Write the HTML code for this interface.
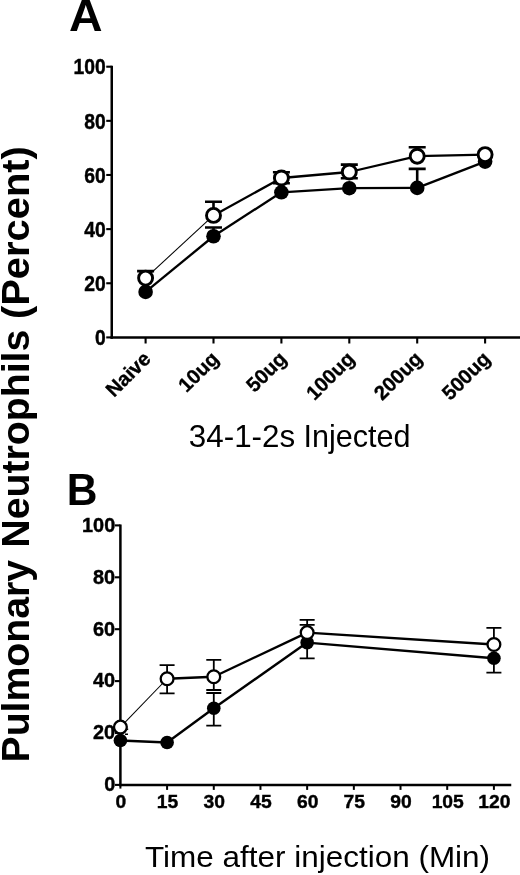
<!DOCTYPE html>
<html><head><meta charset="utf-8"><title>Figure</title>
<style>
html,body{margin:0;padding:0;background:#fff;}
body{width:520px;height:875px;overflow:hidden;font-family:"Liberation Sans",sans-serif;}
svg{display:block;filter:grayscale(1);}
svg text{font-family:"Liberation Sans",sans-serif;fill:#000;}
</style></head><body>
<svg width="520" height="875" viewBox="0 0 520 875">
<rect width="520" height="875" fill="#fff"/>
<path d="M111.75 65.7 V338.65" stroke="#000" stroke-width="2.5" fill="none"/>
<path d="M110.5 337.4 H520" stroke="#000" stroke-width="2.5" fill="none"/>
<path d="M106.25 337.4 H111.75" stroke="#000" stroke-width="2.1" fill="none"/>
<path d="M106.25 283.26 H111.75" stroke="#000" stroke-width="2.1" fill="none"/>
<path d="M106.25 229.12 H111.75" stroke="#000" stroke-width="2.1" fill="none"/>
<path d="M106.25 174.98 H111.75" stroke="#000" stroke-width="2.1" fill="none"/>
<path d="M106.25 120.84 H111.75" stroke="#000" stroke-width="2.1" fill="none"/>
<path d="M106.25 66.7 H111.75" stroke="#000" stroke-width="2.1" fill="none"/>
<path d="M145.6 337.4 V343.5" stroke="#000" stroke-width="2.1" fill="none"/>
<path d="M213.5 337.4 V343.5" stroke="#000" stroke-width="2.1" fill="none"/>
<path d="M281.4 337.4 V343.5" stroke="#000" stroke-width="2.1" fill="none"/>
<path d="M349.3 337.4 V343.5" stroke="#000" stroke-width="2.1" fill="none"/>
<path d="M417.2 337.4 V343.5" stroke="#000" stroke-width="2.1" fill="none"/>
<path d="M485.1 337.4 V343.5" stroke="#000" stroke-width="2.1" fill="none"/>
<g transform="translate(105.75 345.1) scale(1 1.17)"><text x="0" y="0" font-size="19.3" font-weight="bold" stroke="#000" stroke-width="0.4" text-anchor="end">0</text></g>
<g transform="translate(105.75 290.96) scale(1 1.17)"><text x="0" y="0" font-size="19.3" font-weight="bold" stroke="#000" stroke-width="0.4" text-anchor="end">20</text></g>
<g transform="translate(105.75 236.82) scale(1 1.17)"><text x="0" y="0" font-size="19.3" font-weight="bold" stroke="#000" stroke-width="0.4" text-anchor="end">40</text></g>
<g transform="translate(105.75 182.68) scale(1 1.17)"><text x="0" y="0" font-size="19.3" font-weight="bold" stroke="#000" stroke-width="0.4" text-anchor="end">60</text></g>
<g transform="translate(105.75 128.54) scale(1 1.17)"><text x="0" y="0" font-size="19.3" font-weight="bold" stroke="#000" stroke-width="0.4" text-anchor="end">80</text></g>
<g transform="translate(105.75 74.4) scale(1 1.17)"><text x="0" y="0" font-size="19.3" font-weight="bold" stroke="#000" stroke-width="0.4" text-anchor="end">100</text></g>
<text transform="translate(152 360) rotate(-45)" font-size="20.2" font-weight="bold" stroke="#000" stroke-width="0.35" text-anchor="end">Naive</text>
<text transform="translate(219.9 360) rotate(-45)" font-size="20.2" font-weight="bold" stroke="#000" stroke-width="0.35" text-anchor="end">10ug</text>
<text transform="translate(287.8 360) rotate(-45)" font-size="20.2" font-weight="bold" stroke="#000" stroke-width="0.35" text-anchor="end">50ug</text>
<text transform="translate(355.7 360) rotate(-45)" font-size="20.2" font-weight="bold" stroke="#000" stroke-width="0.35" text-anchor="end">100ug</text>
<text transform="translate(423.6 360) rotate(-45)" font-size="20.2" font-weight="bold" stroke="#000" stroke-width="0.35" text-anchor="end">200ug</text>
<text transform="translate(491.5 360) rotate(-45)" font-size="20.2" font-weight="bold" stroke="#000" stroke-width="0.35" text-anchor="end">500ug</text>
<path d="M145.6 291.9 L213.5 236.25" stroke="#000" stroke-width="2.3" fill="none"/>
<path d="M213.5 236.25 L281.4 192.3" stroke="#000" stroke-width="2.3" fill="none"/>
<path d="M281.4 192.3 L349.3 188.2" stroke="#000" stroke-width="2.3" fill="none"/>
<path d="M349.3 188.2 L417.2 187.9" stroke="#000" stroke-width="2.3" fill="none"/>
<path d="M417.2 187.9 L485.1 161.6" stroke="#000" stroke-width="2.3" fill="none"/>
<path d="M213.5 236.25 V227.5 M205 227.5 H222" stroke="#000" stroke-width="2.6" fill="none"/>
<path d="M417.2 187.9 V168.9 M408.7 168.9 H425.7" stroke="#000" stroke-width="2.6" fill="none"/>
<circle cx="145.6" cy="291.9" r="7.3" fill="#000"/>
<circle cx="213.5" cy="236.25" r="7.3" fill="#000"/>
<circle cx="281.4" cy="192.3" r="7.3" fill="#000"/>
<circle cx="349.3" cy="188.2" r="7.3" fill="#000"/>
<circle cx="417.2" cy="187.9" r="7.3" fill="#000"/>
<circle cx="485.1" cy="161.6" r="7.3" fill="#000"/>
<path d="M145.6 278.1 L213.5 215.4" stroke="#000" stroke-width="1.05" fill="none"/>
<path d="M213.5 215.4 L281.4 178" stroke="#000" stroke-width="2.3" fill="none"/>
<path d="M281.4 178 L349.3 172" stroke="#000" stroke-width="2.3" fill="none"/>
<path d="M349.3 172 L417.2 156.2" stroke="#000" stroke-width="2.3" fill="none"/>
<path d="M417.2 156.2 L485.1 154.6" stroke="#000" stroke-width="2.3" fill="none"/>
<path d="M145.6 278.1 V271.1 M137.1 271.1 H154.1" stroke="#000" stroke-width="2.6" fill="none"/>
<path d="M213.5 215.4 V201.7 M205 201.7 H222" stroke="#000" stroke-width="2.6" fill="none"/>
<path d="M281.4 178 V172.2 M272.9 172.2 H289.9" stroke="#000" stroke-width="2.6" fill="none"/>
<path d="M281.4 178 V183.3 M272.9 183.3 H289.9" stroke="#000" stroke-width="2.6" fill="none"/>
<path d="M349.3 172 V164.6 M340.8 164.6 H357.8" stroke="#000" stroke-width="2.6" fill="none"/>
<path d="M349.3 172 V178.2 M340.8 178.2 H357.8" stroke="#000" stroke-width="2.6" fill="none"/>
<path d="M417.2 156.2 V147.3 M408.7 147.3 H425.7" stroke="#000" stroke-width="2.6" fill="none"/>
<circle cx="145.6" cy="278.1" r="7.0" fill="#fff" stroke="#000" stroke-width="2.9"/>
<circle cx="213.5" cy="215.4" r="7.0" fill="#fff" stroke="#000" stroke-width="2.9"/>
<circle cx="281.4" cy="178" r="7.0" fill="#fff" stroke="#000" stroke-width="2.9"/>
<circle cx="349.3" cy="172" r="7.0" fill="#fff" stroke="#000" stroke-width="2.9"/>
<circle cx="417.2" cy="156.2" r="7.0" fill="#fff" stroke="#000" stroke-width="2.9"/>
<circle cx="485.1" cy="154.6" r="7.0" fill="#fff" stroke="#000" stroke-width="2.9"/>
<g transform="translate(301.3 447) scale(1 0.97)" font-size="31.4"><text x="-112.55" y="0">34-1-2s</text><text x="2.1" y="0" textLength="107.2" lengthAdjust="spacingAndGlyphs">Injected</text></g>
<g transform="translate(68.9 30.7) scale(1 0.97)"><text x="0" y="0" font-size="46.5" font-weight="bold">A</text></g>
<g transform="translate(66.8 505.1) scale(1 1.058)"><text x="0" y="0" font-size="42.5" font-weight="bold">B</text></g>
<path d="M120.4 524.4 V786.15" stroke="#000" stroke-width="2.5" fill="none"/>
<path d="M120.4 784.9 V788.6" stroke="#000" stroke-width="2.0" fill="none"/>
<path d="M118.9 784.9 H511.25" stroke="#000" stroke-width="2.5" fill="none"/>
<path d="M114.9 784.9 H120.4" stroke="#000" stroke-width="2.1" fill="none"/>
<g transform="translate(115.2 790.7) scale(1 0.99)"><text x="0" y="0" font-size="19.9" font-weight="bold" stroke="#000" stroke-width="0.4" text-anchor="end">0</text></g>
<path d="M114.9 733 H120.4" stroke="#000" stroke-width="2.1" fill="none"/>
<g transform="translate(115.2 738.97) scale(1 0.99)"><text x="0" y="0" font-size="19.9" font-weight="bold" stroke="#000" stroke-width="0.4" text-anchor="end">20</text></g>
<path d="M114.9 681.1 H120.4" stroke="#000" stroke-width="2.1" fill="none"/>
<g transform="translate(115.2 687.25) scale(1 0.99)"><text x="0" y="0" font-size="19.9" font-weight="bold" stroke="#000" stroke-width="0.4" text-anchor="end">40</text></g>
<path d="M114.9 629.2 H120.4" stroke="#000" stroke-width="2.1" fill="none"/>
<g transform="translate(115.2 635.52) scale(1 0.99)"><text x="0" y="0" font-size="19.9" font-weight="bold" stroke="#000" stroke-width="0.4" text-anchor="end">60</text></g>
<path d="M114.9 577.3 H120.4" stroke="#000" stroke-width="2.1" fill="none"/>
<g transform="translate(115.2 583.8) scale(1 0.99)"><text x="0" y="0" font-size="19.9" font-weight="bold" stroke="#000" stroke-width="0.4" text-anchor="end">80</text></g>
<path d="M114.9 525.4 H120.4" stroke="#000" stroke-width="2.1" fill="none"/>
<g transform="translate(115.2 532.07) scale(1 0.99)"><text x="0" y="0" font-size="19.9" font-weight="bold" stroke="#000" stroke-width="0.4" text-anchor="end">100</text></g>
<path d="M167.09 784.9 V789.9" stroke="#000" stroke-width="2" fill="none"/>
<path d="M213.78 784.9 V789.9" stroke="#000" stroke-width="2" fill="none"/>
<path d="M260.46 784.9 V789.9" stroke="#000" stroke-width="2" fill="none"/>
<path d="M307.15 784.9 V789.9" stroke="#000" stroke-width="2" fill="none"/>
<path d="M353.84 784.9 V789.9" stroke="#000" stroke-width="2" fill="none"/>
<path d="M400.52 784.9 V789.9" stroke="#000" stroke-width="2" fill="none"/>
<path d="M447.21 784.9 V789.9" stroke="#000" stroke-width="2" fill="none"/>
<path d="M493.9 784.9 V789.9" stroke="#000" stroke-width="2" fill="none"/>
<g transform="translate(120.9 808.4) scale(1 0.99)"><text x="0" y="0" font-size="19.3" font-weight="bold" stroke="#000" stroke-width="0.4" text-anchor="middle">0</text></g>
<g transform="translate(167.59 808.4) scale(1 0.99)"><text x="0" y="0" font-size="19.3" font-weight="bold" stroke="#000" stroke-width="0.4" text-anchor="middle">15</text></g>
<g transform="translate(214.28 808.4) scale(1 0.99)"><text x="0" y="0" font-size="19.3" font-weight="bold" stroke="#000" stroke-width="0.4" text-anchor="middle">30</text></g>
<g transform="translate(260.96 808.4) scale(1 0.99)"><text x="0" y="0" font-size="19.3" font-weight="bold" stroke="#000" stroke-width="0.4" text-anchor="middle">45</text></g>
<g transform="translate(307.65 808.4) scale(1 0.99)"><text x="0" y="0" font-size="19.3" font-weight="bold" stroke="#000" stroke-width="0.4" text-anchor="middle">60</text></g>
<g transform="translate(354.34 808.4) scale(1 0.99)"><text x="0" y="0" font-size="19.3" font-weight="bold" stroke="#000" stroke-width="0.4" text-anchor="middle">75</text></g>
<g transform="translate(401.02 808.4) scale(1 0.99)"><text x="0" y="0" font-size="19.3" font-weight="bold" stroke="#000" stroke-width="0.4" text-anchor="middle">90</text></g>
<g transform="translate(447.71 808.4) scale(1 0.99)"><text x="0" y="0" font-size="19.3" font-weight="bold" stroke="#000" stroke-width="0.4" text-anchor="middle">105</text></g>
<g transform="translate(494.4 808.4) scale(1 0.99)"><text x="0" y="0" font-size="19.3" font-weight="bold" stroke="#000" stroke-width="0.4" text-anchor="middle">120</text></g>
<path d="M120.4 740.5 L167.09 742.5" stroke="#000" stroke-width="2.4" fill="none"/>
<path d="M167.09 742.5 L213.78 708.3" stroke="#000" stroke-width="2.4" fill="none"/>
<path d="M213.78 708.3 L307.15 642.6" stroke="#000" stroke-width="2.4" fill="none"/>
<path d="M307.15 642.6 L493.9 658.25" stroke="#000" stroke-width="2.4" fill="none"/>
<path d="M213.78 708.3 V693 M206.28 693 H221.28" stroke="#000" stroke-width="1.8" fill="none"/>
<path d="M213.78 708.3 V725.7 M206.28 725.7 H221.28" stroke="#000" stroke-width="1.8" fill="none"/>
<path d="M307.15 642.6 V624.8 M299.65 624.8 H314.65" stroke="#000" stroke-width="1.8" fill="none"/>
<path d="M307.15 642.6 V658.4 M299.65 658.4 H314.65" stroke="#000" stroke-width="1.8" fill="none"/>
<path d="M493.9 658.25 V672.6 M486.4 672.6 H501.4" stroke="#000" stroke-width="1.8" fill="none"/>
<circle cx="120.4" cy="740.5" r="6.8" fill="#000"/>
<circle cx="167.09" cy="742.5" r="6.8" fill="#000"/>
<circle cx="213.78" cy="708.3" r="6.8" fill="#000"/>
<circle cx="307.15" cy="642.6" r="6.8" fill="#000"/>
<circle cx="493.9" cy="658.25" r="6.8" fill="#000"/>
<path d="M125 729.2 H128.2 M125 734.2 H128" stroke="#000" stroke-width="1.5" fill="none"/>
<path d="M120.4 727.1 L167.09 678.75" stroke="#000" stroke-width="1.05" fill="none"/>
<path d="M167.09 678.75 L213.78 676.75" stroke="#000" stroke-width="2.4" fill="none"/>
<path d="M213.78 676.75 L307.15 632.6" stroke="#000" stroke-width="2.4" fill="none"/>
<path d="M307.15 632.6 L493.9 644.5" stroke="#000" stroke-width="2.4" fill="none"/>
<path d="M167.09 678.75 V665.2 M159.59 665.2 H174.59" stroke="#000" stroke-width="1.8" fill="none"/>
<path d="M167.09 678.75 V693.3 M159.59 693.3 H174.59" stroke="#000" stroke-width="1.8" fill="none"/>
<path d="M213.78 676.75 V659.9 M206.28 659.9 H221.28" stroke="#000" stroke-width="1.8" fill="none"/>
<path d="M213.78 676.75 V690 M206.28 690 H221.28" stroke="#000" stroke-width="1.8" fill="none"/>
<path d="M307.15 632.6 V619.9 M299.65 619.9 H314.65" stroke="#000" stroke-width="1.8" fill="none"/>
<path d="M493.9 644.5 V627.8 M486.4 627.8 H501.4" stroke="#000" stroke-width="1.8" fill="none"/>
<circle cx="120.4" cy="727.1" r="6.4" fill="#fff" stroke="#000" stroke-width="2.3"/>
<circle cx="167.09" cy="678.75" r="6.4" fill="#fff" stroke="#000" stroke-width="2.3"/>
<circle cx="213.78" cy="676.75" r="6.4" fill="#fff" stroke="#000" stroke-width="2.3"/>
<circle cx="307.15" cy="632.6" r="6.4" fill="#fff" stroke="#000" stroke-width="2.3"/>
<circle cx="493.9" cy="644.5" r="6.4" fill="#fff" stroke="#000" stroke-width="2.3"/>
<g transform="translate(317.5 867.3) scale(1 0.94)"><text x="0" y="0" font-size="31.5" text-anchor="middle">Time after injection (Min)</text></g>
<g transform="translate(29.3 762.5) rotate(-90)" font-size="38" font-weight="bold"><text x="0" y="0" textLength="202.5" lengthAdjust="spacingAndGlyphs">Pulmonary</text><text x="214.85" y="0" textLength="217.9" lengthAdjust="spacingAndGlyphs">Neutrophils</text><text x="443.5" y="0" textLength="172.8" lengthAdjust="spacingAndGlyphs">(Percent)</text></g>
</svg>
</body></html>
